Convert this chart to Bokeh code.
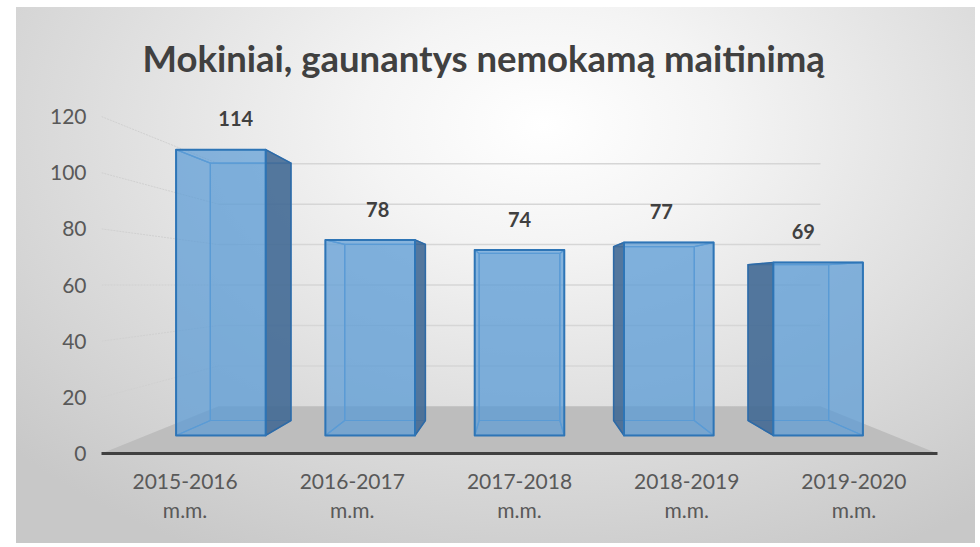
import numpy as np
from bokeh.plotting import figure
from bokeh.models import FixedTicker, Title, ColumnDataSource, Range1d
from bokeh.embed import file_html
from bokeh.resources import INLINE

# ---- data ----
categories = ["2015-2016\nm.m.", "2016-2017\nm.m.", "2017-2018\nm.m.", "2018-2019\nm.m.", "2019-2020\nm.m."]
values = [114, 78, 74, 77, 69]
y_ticks = [0, 20, 40, 60, 80, 100, 120]
title_text = "Mokiniai, gaunantys nemokamą maitinimą"

# ---- perspective style parameters ----
XC, YC = 2.0, 60.0          # vanishing point (data units)
S_WALL = 0.72               # depth scale of the back wall
S_FRONT, S_BACK = 0.893, 0.804  # depth scales of bar front / back faces
HW = 0.30                   # bar half width
X0, X1 = -0.5, len(values) - 0.5


def proj(x, y, s):
    return XC + (x - XC) * s, YC + (y - YC) * s


FONT = "Lato"

p = figure(width=975, height=543, output_backend="svg", toolbar_location=None,
           x_range=Range1d(X0, X1), y_range=Range1d(0, 130),
           min_border_left=101, min_border_right=38, min_border_top=88, min_border_bottom=90)
p.background_fill_alpha = 0
p.border_fill_alpha = 0
p.outline_line_color = None
p.grid.visible = False
p.styles = {
    "background": ("radial-gradient(ellipse 75% 90% at 55% 22%, #ffffff 0%, #f4f4f4 25%, #dcdcdc 65%, #c8c8c8 100%)"
                   " 16px 7px / 959px 536px no-repeat, #ffffff"),
}

p.add_layout(Title(text=title_text, align="left", text_font=FONT, text_font_size="36.5px",
                   text_font_style="bold", text_color="#404040", offset=41, standoff=17), "above")

# ---- floor ----
fx, fy = [], []
for (x, s) in [(X0, 1.0), (X1, 1.0), (X1, S_WALL), (X0, S_WALL)]:
    a, b = proj(x, 0, s)
    fx.append(a); fy.append(b)
p.patch(fx, fy, fill_color="#bdbdbd", line_color=None)

# ---- back wall gridlines & left wall lines ----
bw_x0, bw_x1, bw_y, lw_x0, lw_x1, lw_y0, lw_y1 = [], [], [], [], [], [], []
for v in y_ticks:
    a0, b0 = proj(X0, v, S_WALL)
    a1, _ = proj(X1, v, S_WALL)
    c0, d0 = proj(X0, v, 1.0)
    if v > 0:
        bw_x0.append(a0); bw_x1.append(a1); bw_y.append(b0)
        lw_x0.append(c0); lw_x1.append(a0); lw_y0.append(d0); lw_y1.append(b0)
p.segment(bw_x0, bw_y, bw_x1, bw_y, line_color="#d6d6d6", line_width=1.5)
p.segment(lw_x0, lw_y0, lw_x1, lw_y1, line_color="#d0d0d0", line_width=1, line_dash="2 1")

# ---- 3D bars ----
layers = {"back": [], "bottom": [], "top": [], "inner": [], "outer": [], "front": []}
for i, v in enumerate(values):
    def P(dx, y, s):
        return proj(i + dx, y, s)
    FLb, FRb, FRt, FLt = P(-HW, 0, S_FRONT), P(HW, 0, S_FRONT), P(HW, v, S_FRONT), P(-HW, v, S_FRONT)
    BLb, BRb, BRt, BLt = P(-HW, 0, S_BACK), P(HW, 0, S_BACK), P(HW, v, S_BACK), P(-HW, v, S_BACK)
    layers["back"].append([BLb, BRb, BRt, BLt])
    layers["bottom"].append([FLb, FRb, BRb, BLb])
    layers["top"].append([FLt, FRt, BRt, BLt])
    left = [FLb, BLb, BLt, FLt]
    right = [FRb, BRb, BRt, FRt]
    if i + HW < XC:
        layers["inner"].append(left); layers["outer"].append(right)
    elif i - HW > XC:
        layers["inner"].append(right); layers["outer"].append(left)
    else:
        layers["inner"].append(left); layers["inner"].append(right)
    layers["front"].append([FLb, FRb, FRt, FLt])

styles = {
    "back": ("#5b9bd5", 0.30, "#5b9bd5", 1.2),
    "bottom": ("#5b9bd5", 0.15, "#5b9bd5", 1.2),
    "top": ("#5b9bd5", 0.15, "#5b9bd5", 1.2),
    "inner": ("#5b9bd5", 0.20, "#5b9bd5", 1.2),
    "outer": ("#3f6690", 0.85, "#2e6aa6", 1.5),
    "front": ("#5b9bd5", 0.65, "#2e75b6", 2.0),
}
for name, faces in layers.items():
    fc, fa, lc, lw = styles[name]
    xs = [[pt[0] for pt in f] for f in faces]
    ys = [[pt[1] for pt in f] for f in faces]
    p.patches(xs, ys, fill_color=fc, fill_alpha=fa, line_color=lc, line_width=lw, line_join="round")

# ---- data labels ----
LABEL_GAP = 11
lab_x = [proj(i, v, (S_FRONT + S_BACK) / 2)[0] for i, v in enumerate(values)]
lab_y = [proj(i, v, S_FRONT)[1] + LABEL_GAP for i, v in enumerate(values)]
src = ColumnDataSource(dict(x=lab_x, y=lab_y, t=[str(v) for v in values]))
p.text("x", "y", text="t", source=src, text_align="center", text_baseline="middle",
       text_font_size="20px", text_font_style="bold", text_color="#404040", text_font={"value": FONT})

# ---- axes ----
p.yaxis.ticker = FixedTicker(ticks=y_ticks)
p.yaxis.axis_line_color = None
p.yaxis.major_tick_line_color = None
p.yaxis.major_tick_out = 0
p.yaxis.minor_tick_line_color = None
p.yaxis.major_label_standoff = 15
p.yaxis.major_label_text_font = FONT
p.yaxis.major_label_text_font_size = "21px"
p.yaxis.major_label_text_color = "#595959"

p.xaxis.ticker = FixedTicker(ticks=list(range(len(categories))))
p.xaxis.major_label_overrides = {i: c for i, c in enumerate(categories)}
p.xaxis.axis_line_color = "#404040"
p.xaxis.axis_line_width = 3
p.xaxis.major_tick_line_color = None
p.xaxis.major_tick_out = 0
p.xaxis.minor_tick_line_color = None
p.xaxis.major_label_standoff = 14
p.xaxis.major_label_text_font = FONT
p.xaxis.major_label_text_font_size = "21px"
p.xaxis.major_label_text_color = "#595959"
p.xaxis.major_label_text_line_height = 1.17

open("out.html", "w").write(file_html(p, INLINE))
